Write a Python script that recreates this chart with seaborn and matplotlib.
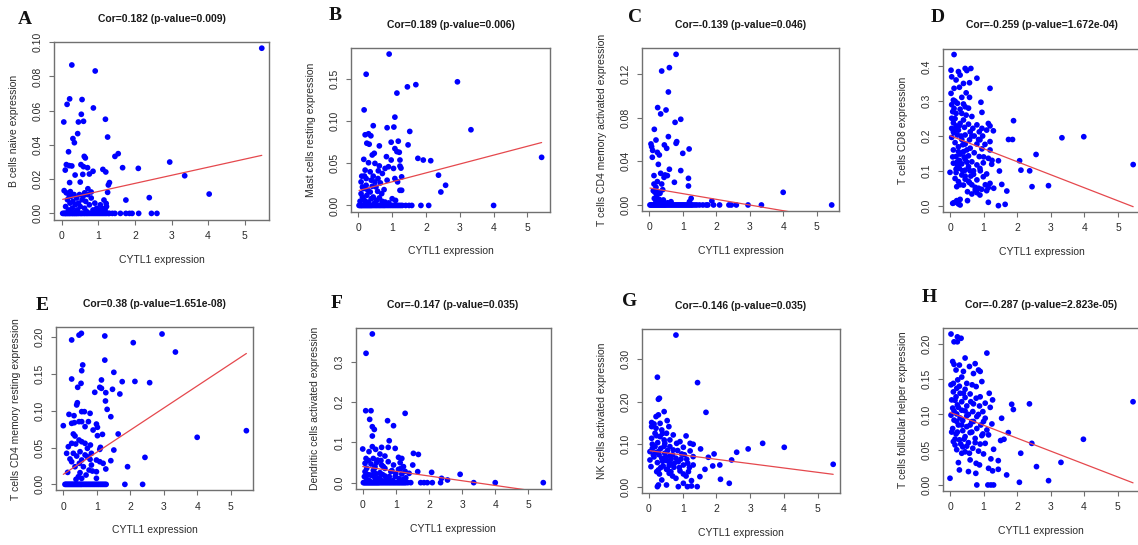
import matplotlib
matplotlib.use("Agg")
import matplotlib.pyplot as plt
import pandas as pd
import seaborn as sns

# ---------------- data ----------------
panel_letters = ["A", "B", "C", "D", "E", "F", "G", "H"]
titles = [
    "Cor=0.182 (p-value=0.009)",
    "Cor=0.189 (p-value=0.006)",
    "Cor=-0.139 (p-value=0.046)",
    "Cor=-0.259 (p-value=1.672e-04)",
    "Cor=0.38 (p-value=1.651e-08)",
    "Cor=-0.147 (p-value=0.035)",
    "Cor=-0.146 (p-value=0.035)",
    "Cor=-0.287 (p-value=2.823e-05)",
]
y_labels = [
    "B cells naive expression",
    "Mast cells resting expression",
    "T cells CD4 memory activated expression",
    "T cells CD8 expression",
    "T cells CD4 memory resting expression",
    "Dendritic cells activated expression",
    "NK cells activated expression",
    "T cells follicular helper expression",
]
x_label = "CYTL1 expression"
x_ticks = [0, 1, 2, 3, 4, 5]
y_ticks = [
    [0.00, 0.02, 0.04, 0.06, 0.08, 0.10],
    [0.00, 0.05, 0.10, 0.15],
    [0.00, 0.04, 0.08, 0.12],
    [0.0, 0.1, 0.2, 0.3, 0.4],
    [0.00, 0.05, 0.10, 0.15, 0.20],
    [0.0, 0.1, 0.2, 0.3],
    [0.00, 0.10, 0.20, 0.30],
    [0.00, 0.05, 0.10, 0.15, 0.20],
]
y_tick_fmt = ["%.2f", "%.2f", "%.2f", "%.1f", "%.2f", "%.1f", "%.2f", "%.2f"]
# fitted line value at the smallest and at the largest CYTL1 value
fit_start = [0.0082, 0.0178, 0.0155, 0.201, 0.0136, 0.040, 0.0845, 0.103]
fit_end = [0.0339, 0.0748, -0.0128, -0.003, 0.178, -0.024, 0.029, 0.003]

A_pts = [(5.47,0.0965),(0.27,0.0867),(0.91,0.0832),(0.21,0.0669),(0.14,0.0637),(0.55,0.0665),
    (0.86,0.0616),(0.05,0.0534),(0.53,0.0579),(0.45,0.0534),(0.59,0.0538),(1.19,0.055),(0.43,0.0466),
    (0.30,0.0437),(0.34,0.0413),(1.25,0.0446),(0.18,0.036),(1.54,0.0349),(1.45,0.0333),(0.61,0.0333),
    (0.64,0.0324),(2.95,0.030),(0.12,0.0285),(0.20,0.0279),(0.27,0.0277),(0.52,0.0285),(0.59,0.0273),
    (0.70,0.0267),(1.66,0.0267),(2.09,0.0263),(0.09,0.0253),(1.12,0.0257),(1.20,0.0242),(0.85,0.0246),
    (0.36,0.0224),(3.36,0.0220),(0.57,0.0228),(0.75,0.023),(1.30,0.018),(1.27,0.0166),(0.50,0.0183),
    (0.21,0.018),(0.71,0.0144),(0.06,0.0133),(0.23,0.0127),(1.25,0.0123),(4.03,0.0113),(1.75,0.0078),
    (2.39,0.0092),(1.15,0.0078),(1.21,0.0058),(0.10,0.004),(0.15,0.008),(0.18,0.002),(0.22,0.006),
    (0.25,0.010),(0.28,0.003),(0.30,0.007),(0.33,0.011),(0.36,0.005),(0.40,0.009),(0.42,0.002),
    (0.45,0.006),(0.48,0.011),(0.50,0.004),(0.55,0.008),(0.58,0.010),(0.62,0.003),(0.65,0.007),
    (0.70,0.011),(0.75,0.005),(0.80,0.009),(0.85,0.002),(0.90,0.006),(0.95,0.003),(1.00,0.002),
    (1.05,0.005),(1.10,0.003),(1.18,0.002),(1.22,0.004),(0.12,0.012),(0.20,0.010),(0.38,0.001),
    (0.68,0.001),(0.80,0.0125),(0.62,0.012)]
A_zeros = [0.02,0.05,0.08,0.10,0.12,0.15,0.17,0.20,0.22,0.25,0.28,0.30,0.33,0.35,0.38,0.40,0.43,
    0.46,0.50,0.53,0.56,0.60,0.63,0.67,0.70,0.74,0.78,0.82,0.86,0.90,0.94,0.98,1.02,1.06,1.10,1.14,
    1.18,1.22,1.27,1.30,1.38,1.45,1.60,1.75,1.85,1.92,2.10,2.45,2.60]

B_pts = [(0.91,0.180),(0.23,0.156),(2.93,0.147),(1.45,0.141),(1.70,0.1436),(1.14,0.1336),(0.17,0.1136),
    (1.08,0.105),(0.44,0.0948),(0.85,0.0924),(1.05,0.0932),(3.33,0.090),(1.52,0.088),(0.30,0.0852),
    (0.20,0.084),(0.37,0.0828),(0.25,0.074),(0.32,0.0728),(0.62,0.0708),(0.97,0.0752),(1.18,0.0764),
    (1.47,0.072),(1.08,0.0676),(1.14,0.064),(1.21,0.0632),(0.47,0.062),(0.41,0.060),(0.83,0.058),
    (0.16,0.0548),(0.97,0.054),(1.76,0.056),(1.92,0.054),(2.14,0.0532),(5.42,0.0572),(0.30,0.0508),
    (0.49,0.050),(1.23,0.054),(0.62,0.047),(0.79,0.044),(0.89,0.046),(1.04,0.044),(1.23,0.0468),
    (1.26,0.0444),(0.20,0.042),(0.35,0.040),(0.59,0.0412),(0.71,0.038),(2.37,0.036),(0.10,0.0348),
    (0.44,0.0348),(1.28,0.034),(1.08,0.032),(0.23,0.032),(0.08,0.028),(1.16,0.028),(0.49,0.028),
    (0.65,0.0268),(0.85,0.030),(2.58,0.024),(0.23,0.024),(0.41,0.0228),(0.15,0.020),(0.76,0.0188),
    (1.23,0.018),(1.28,0.018),(2.44,0.016),(0.35,0.016),(0.57,0.0168),(0.08,0.014),(0.69,0.014),
    (0.25,0.012),(0.44,0.010),(1.00,0.008),(0.16,0.0068),(0.54,0.006),(0.79,0.004),(0.30,0.004),
    (0.12,0.010),(0.20,0.005),(0.38,0.008),(0.48,0.003),(0.62,0.009),(0.70,0.005),(0.90,0.003),
    (1.10,0.006),(0.05,0.005),(0.28,0.018),(0.52,0.022),(0.58,0.032),(0.38,0.030),(0.18,0.035),
    (0.12,0.022)]
B_zeros = [0.02,0.05,0.08,0.10,0.13,0.16,0.19,0.22,0.25,0.28,0.31,0.34,0.37,0.40,0.44,0.48,0.52,
    0.56,0.60,0.64,0.68,0.72,0.76,0.80,0.85,0.90,0.95,1.00,1.05,1.10,1.15,1.20,1.25,1.30,1.40,1.50,
    1.58,1.85,2.08,4.00]

C_pts = [(0.80,0.138),(0.37,0.1227),(0.60,0.1258),(0.57,0.1035),(0.25,0.0892),(0.50,0.087),
    (0.34,0.0834),(0.94,0.0785),(0.77,0.0757),(0.15,0.0693),(0.57,0.0626),(0.20,0.0595),(0.82,0.058),
    (0.80,0.0565),(0.05,0.0559),(0.07,0.0534),(0.45,0.055),(0.52,0.0519),(1.19,0.0513),(0.10,0.050),
    (0.24,0.0482),(0.30,0.0458),(1.00,0.0473),(0.09,0.0437),(0.27,0.0372),(0.94,0.0315),(0.60,0.0327),
    (0.34,0.029),(0.47,0.0275),(0.54,0.0269),(0.14,0.0269),(0.44,0.0253),(1.17,0.0244),(0.24,0.0214),
    (0.75,0.0208),(0.14,0.0192),(0.37,0.0192),(1.17,0.0174),(0.20,0.0162),(4.00,0.0116),(0.17,0.0116),
    (0.27,0.0116),(0.32,0.0107),(0.42,0.0046),(0.45,0.002),(1.87,0.0037),(1.20,0.003),(0.15,0.006),
    (0.20,0.003),(0.30,0.005),(0.38,0.002),(0.55,0.002),(0.65,0.003),(0.22,0.008),(0.12,0.013),
    (0.40,0.014),(1.25,0.006)]
C_zeros = [0.02,0.05,0.08,0.11,0.14,0.17,0.20,0.23,0.26,0.29,0.32,0.35,0.38,0.41,0.44,0.47,0.50,
    0.54,0.58,0.62,0.66,0.70,0.74,0.78,0.82,0.86,0.90,0.94,0.98,1.02,1.06,1.10,1.14,1.18,1.22,1.26,
    1.30,1.36,1.42,1.50,1.60,1.70,1.75,1.92,2.10,2.38,2.45,2.60,2.95,3.35,5.45]

D_pts = [(0.12,0.434),(0.03,0.389),(0.05,0.370),(0.25,0.385),(0.30,0.375),(0.45,0.394),(0.50,0.388),
    (0.62,0.394),(0.80,0.366),(0.18,0.361),(0.40,0.351),(0.58,0.353),(0.12,0.337),(0.28,0.340),
    (1.19,0.337),(0.03,0.3225),(0.48,0.324),(0.35,0.311),(0.58,0.311),(0.92,0.297),(0.10,0.303),
    (0.22,0.294),(0.40,0.292),(0.45,0.284),(0.30,0.277),(0.12,0.279),(0.95,0.268),(1.89,0.244),
    (0.18,0.265),(0.48,0.260),(0.65,0.256),(0.05,0.251),(0.40,0.246),(0.10,0.238),(0.30,0.236),
    (0.55,0.234),(0.80,0.232),(1.14,0.236),(1.19,0.229),(0.18,0.229),(0.43,0.225),(0.68,0.222),
    (0.95,0.222),(0.05,0.222),(1.29,0.215),(0.25,0.217),(0.60,0.212),(0.87,0.212),(1.09,0.217),
    (0.10,0.212),(3.33,0.195),(3.98,0.198),(1.74,0.190),(1.86,0.190),(0.22,0.203),(0.45,0.203),
    (0.72,0.200),(0.97,0.200),(0.05,0.196),(0.35,0.190),(0.58,0.189),(0.89,0.189),(1.19,0.184),
    (0.15,0.181),(0.45,0.177),(0.80,0.177),(1.04,0.176),(0.25,0.169),(0.60,0.165),(0.95,0.163),
    (0.10,0.160),(1.19,0.160),(0.40,0.155),(0.72,0.152),(0.30,0.148),(2.56,0.147),(0.55,0.143),
    (0.18,0.141),(0.87,0.141),(1.14,0.136),(0.45,0.133),(0.22,0.126),(0.65,0.126),(0.99,0.123),
    (1.44,0.129),(2.07,0.129),(0.10,0.122),(0.35,0.120),(0.80,0.117),(1.24,0.119),(5.45,0.118),
    (0.55,0.112),(0.28,0.107),(0.45,0.102),(0.70,0.100),(0.89,0.107),(2.11,0.102),(2.37,0.100),
    (1.47,0.0995),(0.00,0.0957),(0.18,0.095),(1.09,0.091),(0.35,0.088),(0.62,0.085),(0.99,0.083),
    (0.15,0.078),(0.45,0.076),(0.80,0.074),(0.25,0.069),(0.58,0.066),(1.19,0.064),(0.40,0.059),
    (1.54,0.061),(2.44,0.0545),(2.93,0.0574),(0.20,0.0545),(0.75,0.0526),(1.14,0.0517),(0.94,0.0469),
    (1.69,0.042),(0.52,0.040),(0.80,0.0373),(1.09,0.043),(0.89,0.0306),(0.65,0.0335),(0.30,0.018),
    (0.20,0.0144),(0.52,0.0144),(0.12,0.0086),(0.25,0.005),(0.08,0.0067),(1.14,0.0096),(1.44,0.0),
    (1.64,0.0038),(0.30,0.002),(0.08,0.27),(0.15,0.25),(0.20,0.22),(0.12,0.21),(0.28,0.23),
    (0.33,0.20),(0.38,0.175),(0.50,0.16),(0.42,0.14),(0.28,0.13),(0.50,0.125),(0.60,0.10),(0.38,0.10),
    (0.22,0.115),(0.70,0.09),(0.45,0.085),(0.55,0.07),(0.65,0.06),(0.85,0.05),(0.75,0.045),(0.30,0.06),
    (0.18,0.105),(0.08,0.14),(0.25,0.155),(0.35,0.265),(0.15,0.30),(0.05,0.29),(0.55,0.28),(0.65,0.20),
    (0.85,0.19),(1.00,0.14),(1.05,0.06),(0.90,0.10),(1.25,0.13),(1.30,0.05)]
D_zeros = []

E_pts = [(0.47,0.203),(0.54,0.2054),(2.95,0.2045),(0.25,0.1964),(1.24,0.2018),(2.09,0.1927),
    (3.35,0.180),(1.24,0.169),(0.58,0.1624),(0.55,0.1546),(1.51,0.1524),(0.25,0.1433),(1.14,0.142),
    (1.76,0.1397),(2.14,0.140),(2.58,0.1383),(0.53,0.1374),(1.09,0.132),(1.14,0.1306),(1.47,0.1293),
    (0.43,0.132),(0.94,0.1252),(1.27,0.1247),(1.69,0.1229),(1.26,0.1134),(0.42,0.111),(0.40,0.108),
    (1.31,0.102),(0.55,0.0989),(0.63,0.0989),(0.80,0.0966),(0.17,0.0952),(0.32,0.0934),(1.42,0.092),
    (0.75,0.0853),(0.47,0.0853),(0.25,0.083),(0.33,0.0839),(0.55,0.0853),(0.99,0.082),(0.00,0.0798),
    (1.02,0.0776),(0.65,0.0785),(0.89,0.0739),(5.47,0.073),(1.64,0.0685),(0.30,0.0685),(0.35,0.0658),
    (1.02,0.0662),(1.17,0.068),(4.00,0.064),(0.47,0.0603),(0.55,0.058),(0.65,0.0558),(0.37,0.0549),
    (0.25,0.0558),(0.81,0.0535),(0.15,0.0512),(0.72,0.049),(1.11,0.0503),(1.51,0.0467),(1.09,0.0476),
    (0.10,0.0422),(0.50,0.0444),(0.30,0.0422),(0.84,0.0422),(0.65,0.040),(0.40,0.0385),(0.72,0.0376),
    (2.44,0.0367),(0.20,0.0345),(0.55,0.0331),(0.80,0.034),(1.42,0.0322),(1.09,0.0308),(0.99,0.0331),
    (0.25,0.0308),(0.48,0.0286),(1.19,0.0286),(0.84,0.0263),(0.60,0.024),(1.92,0.024),(1.27,0.0209),
    (0.35,0.024),(0.77,0.0195),(0.87,0.0181),(0.99,0.0172),(0.50,0.0159),(0.13,0.0163),(0.68,0.0127),
    (0.45,0.0104),(0.55,0.0082),(0.38,0.0068),(0.99,0.0082)]
E_zeros = [0.05,0.08,0.11,0.14,0.17,0.20,0.23,0.26,0.29,0.32,0.35,0.38,0.41,0.44,0.47,0.50,0.53,
    0.56,0.60,0.64,0.68,0.72,0.76,0.80,0.84,0.88,0.92,0.96,1.00,1.04,1.08,1.12,1.16,1.20,1.24,1.28,
    1.84,2.37]

F_pts = [(0.29,0.369),(0.10,0.321),(0.09,0.1785),(0.25,0.1785),(1.28,0.172),(0.21,0.157),(0.75,0.1537),
    (0.93,0.1413),(0.29,0.1388),(0.35,0.132),(0.29,0.1157),(0.80,0.104),(0.00,0.0835),(0.29,0.0893),
    (0.57,0.0876),(0.77,0.0876),(0.98,0.085),(0.39,0.0826),(0.19,0.077),(0.52,0.071),(1.53,0.0727),
    (1.68,0.070),(0.67,0.066),(1.08,0.0628),(1.18,0.060),(0.10,0.060),(0.32,0.060),(0.45,0.056),
    (0.77,0.052),(1.13,0.0496),(0.07,0.048),(0.25,0.0463),(0.57,0.0438),(0.93,0.0438),(1.51,0.0438),
    (0.37,0.0397),(1.23,0.0397),(0.12,0.0355),(0.67,0.0355),(1.08,0.033),(0.32,0.030),(0.85,0.0273),
    (1.66,0.0273),(2.08,0.0256),(0.07,0.0273),(0.52,0.0248),(1.40,0.0231),(2.94,0.0207),(1.18,0.0215),
    (0.22,0.019),(0.67,0.0165),(0.98,0.0149),(2.38,0.0107),(2.56,0.0066),(0.37,0.0107),(0.12,0.0083),
    (0.77,0.0083),(1.23,0.0083),(0.57,0.005),(0.05,0.015),(0.15,0.020),(0.20,0.005),(0.28,0.018),
    (0.40,0.022),(0.45,0.004),(0.50,0.012),(0.60,0.020),(0.70,0.008),(0.80,0.015),(0.90,0.005),
    (1.00,0.022),(1.10,0.010),(1.30,0.012),(0.35,0.035),(0.62,0.040),(0.42,0.050),(0.18,0.055),
    (0.55,0.055),(0.88,0.030),(1.15,0.035),(1.28,0.028)]
F_zeros = [0.02,0.05,0.08,0.11,0.14,0.17,0.20,0.23,0.26,0.29,0.32,0.35,0.38,0.41,0.44,0.47,0.50,
    0.54,0.58,0.62,0.66,0.70,0.74,0.78,0.82,0.86,0.90,0.94,0.98,1.02,1.06,1.10,1.14,1.18,1.22,1.26,
    1.30,1.36,1.45,1.75,1.85,1.95,2.10,2.35,3.35,4.00,5.45]

G_pts = [(0.80,0.357),(0.25,0.2577),(1.44,0.245),(0.31,0.2082),(0.28,0.2058),(1.69,0.175),(0.45,0.1767),
    (0.28,0.169),(0.21,0.165),(0.54,0.1555),(0.08,0.151),(0.15,0.1477),(0.33,0.149),(0.08,0.1414),
    (0.59,0.1414),(0.21,0.1375),(0.38,0.1335),(0.18,0.1257),(0.52,0.1257),(0.72,0.1218),(1.10,0.1194),
    (0.33,0.1178),(0.08,0.1139),(0.62,0.110),(0.92,0.106),(3.37,0.102),(1.22,0.102),(0.26,0.1037),
    (0.82,0.102),(0.47,0.102),(4.01,0.0927),(0.03,0.0825),(1.31,0.0998),(0.18,0.0943),(0.62,0.0943),
    (1.02,0.0927),(1.53,0.0888),(2.94,0.0888),(0.72,0.0864),(1.22,0.084),(0.28,0.0825),(2.60,0.081),
    (0.47,0.0786),(0.97,0.077),(1.93,0.077),(0.13,0.0746),(0.62,0.0723),(1.31,0.0707),(1.76,0.0691),
    (0.80,0.0668),(0.38,0.0668),(1.12,0.0644),(2.45,0.0628),(0.03,0.0628),(0.52,0.0613),(0.87,0.0589),
    (0.25,0.0566),(0.62,0.055),(2.10,0.051),(5.46,0.0526),(1.89,0.0487),(1.31,0.051),(1.02,0.051),
    (0.42,0.0487),(0.06,0.0471),(0.74,0.0456),(0.52,0.0408),(1.66,0.0408),(0.28,0.0393),(0.92,0.0369),
    (1.17,0.0353),(0.23,0.0353),(0.60,0.0314),(0.31,0.0298),(1.02,0.0298),(1.51,0.0236),(0.80,0.0196),
    (2.12,0.0173),(0.38,0.0157),(1.26,0.0141),(2.38,0.0079),(0.28,0.0039),(0.52,0.0039),(0.25,0.0),
    (0.87,0.0),(1.14,0.0),(1.26,0.0016),(1.43,0.0),(1.02,0.0079),(0.10,0.09),(0.15,0.07),(0.20,0.08),
    (0.35,0.09),(0.40,0.06),(0.45,0.095),(0.55,0.085),(0.60,0.05),(0.65,0.065),(0.70,0.075),(0.75,0.055),
    (0.50,0.07),(0.35,0.045),(0.45,0.11),(0.55,0.04),(0.85,0.085),(0.90,0.045),(0.95,0.065),(1.05,0.075),
    (1.15,0.055),(1.20,0.045),(0.30,0.075),(0.10,0.10),(0.22,0.12),(0.40,0.125),(0.65,0.035),
    (0.70,0.025),(1.10,0.025)]
G_zeros = []

H_pts = [(0.03,0.214),(0.22,0.210),(0.33,0.208),(0.12,0.203),(0.22,0.203),(1.10,0.187),(0.45,0.180),
    (0.08,0.175),(0.75,0.172),(0.12,0.171),(0.28,0.170),(0.58,0.168),(0.85,0.163),(0.90,0.161),
    (0.18,0.163),(0.40,0.161),(0.70,0.158),(0.35,0.153),(0.23,0.149),(0.50,0.144),(0.03,0.142),
    (0.10,0.144),(0.95,0.1466),(0.66,0.142),(0.20,0.137),(0.78,0.1395),(0.45,0.1357),(1.17,0.130),
    (0.10,0.132),(0.30,0.130),(0.60,0.129),(0.18,0.125),(0.45,0.124),(0.78,0.123),(1.27,0.1206),
    (0.05,0.1206),(0.35,0.118),(0.62,0.118),(1.05,0.116),(1.84,0.1144),(2.37,0.115),(5.46,0.118),
    (0.22,0.1135),(0.50,0.112),(0.88,0.112),(1.89,0.107),(1.20,0.110),(0.08,0.109),(0.35,0.106),
    (0.68,0.104),(0.98,0.104),(0.03,0.099),(0.20,0.1007),(0.50,0.098),(0.80,0.097),(1.54,0.0946),
    (1.05,0.0946),(0.12,0.092),(0.38,0.0913),(0.65,0.0898),(1.25,0.0865),(0.92,0.085),(0.25,0.085),
    (0.50,0.0827),(0.08,0.080),(0.80,0.080),(0.38,0.077),(1.10,0.078),(0.60,0.0742),(1.74,0.0742),
    (0.18,0.0723),(0.98,0.0723),(1.15,0.071),(0.45,0.0685),(0.75,0.066),(3.98,0.0648),(1.61,0.0648),
    (1.51,0.063),(0.28,0.064),(0.10,0.0615),(0.55,0.060),(2.44,0.059),(0.90,0.058),(0.15,0.0567),
    (0.38,0.054),(1.05,0.059),(0.68,0.052),(1.30,0.0506),(0.20,0.050),(0.45,0.047),(0.85,0.048),
    (0.35,0.045),(1.00,0.044),(2.11,0.045),(0.60,0.0355),(1.22,0.037),(1.44,0.0345),(0.25,0.0317),
    (0.78,0.0307),(3.31,0.032),(0.88,0.0284),(2.58,0.026),(0.28,0.0213),(0.55,0.019),(0.77,0.0165),
    (1.15,0.0236),(1.27,0.020),(1.44,0.0222),(1.69,0.0142),(0.00,0.0095),(2.94,0.0061),(2.07,0.0038),
    (0.80,0.0),(1.13,0.0),(1.22,0.0),(1.30,0.0),(0.15,0.12),(0.25,0.11),(0.30,0.095),(0.40,0.13),
    (0.55,0.10),(0.60,0.085),(0.70,0.09),(0.65,0.075),(0.42,0.065),(0.22,0.075),(0.12,0.105),
    (0.28,0.14),(0.35,0.085),(0.50,0.055),(0.75,0.06),(0.95,0.07),(0.85,0.10),(0.45,0.105),
    (0.15,0.065),(0.05,0.075),(0.58,0.045),(0.32,0.058),(0.20,0.09),(0.70,0.115),(1.00,0.09),
    (0.90,0.125)]
H_zeros = []

panel_points = [A_pts, B_pts, C_pts, D_pts, E_pts, F_pts, G_pts, H_pts]
panel_zeros = [A_zeros, B_zeros, C_zeros, D_zeros, E_zeros, F_zeros, G_zeros, H_zeros]

# ---------------- layout (pixels in the 1138x545 canvas) ----------------
W, H = 1138, 545
boxes = [  # left, top, right, bottom
    (54, 41.6, 269, 220), (351, 48, 550, 211.5), (642, 48.3, 839, 211), (942.7, 48.5, 1140.5, 211.7),
    (56, 327.3, 253, 490.4), (355.5, 328, 550.5, 488.6), (641.6, 329, 840.2, 492.7), (942.7, 328, 1140, 491),
]
letter_pos = [(25, 19), (335, 16), (635, 18), (938, 18), (42, 305), (337, 303), (630, 302), (929, 298)]

sns.set_theme(style="white")
plt.rcParams['font.family'] = ['Liberation Sans', 'DejaVu Sans']

fig = plt.figure(figsize=(W / 100, H / 100), dpi=100)
fig.patch.set_facecolor("white")

box_col = "#707070"
txt_col = "#2b2b2b"

for i in range(8):
    l, t, r, b = boxes[i]
    wpx, hpx = r - l, b - t
    ax = fig.add_axes([l / W, 1 - b / H, wpx / W, hpx / H])
    df = pd.DataFrame(panel_points[i], columns=["x", "y"])
    if panel_zeros[i]:
        df = pd.concat([df, pd.DataFrame({"x": panel_zeros[i], "y": 0.0})], ignore_index=True)
    sns.scatterplot(data=df, x="x", y="y", ax=ax, color="#0000FF", s=17,
                    linewidth=0, edgecolor="none", zorder=3)
    line = pd.DataFrame({"x": [df.x.min(), df.x.max()], "y": [fit_start[i], fit_end[i]]})
    sns.lineplot(data=line, x="x", y="y", ax=ax, color="#E5484D", linewidth=0.9, zorder=4)

    yr = df.y.max() - df.y.min()
    ax.set_xlim(-0.218, 5.668)
    ax.set_ylim(df.y.min() - 0.04 * yr, df.y.max() + 0.04 * yr)
    ax.set_xticks(x_ticks)
    ax.set_xticklabels([str(v) for v in x_ticks])
    ax.set_yticks(y_ticks[i])
    ax.set_yticklabels([y_tick_fmt[i] % v for v in y_ticks[i]])
    ax.tick_params(axis="both", direction="out", length=3.5, width=0.8, color=box_col,
                   labelsize=7.5, labelcolor=txt_col, pad=4.5, bottom=True, left=True)
    ax.tick_params(axis="y", labelrotation=90)
    for lab in ax.get_yticklabels():
        lab.set_va("center")
    for sp in ax.spines.values():
        sp.set_color(box_col)
        sp.set_linewidth(1.0)
        sp.set_visible(True)
    ax.set_facecolor("white")
    ax.grid(False)

    ax.set_xlabel(x_label, fontsize=7.5, color=txt_col)
    ax.set_ylabel(y_labels[i], fontsize=7.5, color=txt_col)
    ax.xaxis.label.set_va("center")
    ax.yaxis.label.set_va("center")
    ax.xaxis.set_label_coords(0.5, -40 / hpx)
    ax.yaxis.set_label_coords(-40 / wpx, 0.5)

    ax.text(0.5, 1 + 23 / hpx, titles[i], transform=ax.transAxes, ha="center", va="center",
            fontsize=7.5, fontweight="bold", color="#1a1a1a")

    lx, ly = letter_pos[i]
    fig.text(lx / W, 1 - ly / H, panel_letters[i], ha="center", va="center", fontsize=14,
             fontweight="bold", family=["Liberation Serif", "DejaVu Serif"], color="#111111")

fig.savefig("out.png", dpi=100, facecolor="white")
